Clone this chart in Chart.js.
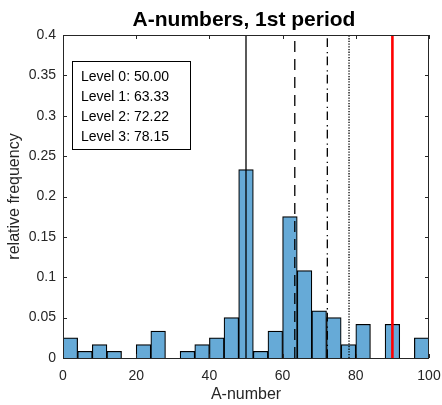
<!DOCTYPE html>
<html>
<head>
<meta charset="utf-8">
<script src="https://cdn.jsdelivr.net/npm/chart.js@4"></script>
<style>
body{margin:0;background:#fff}
</style>
</head>
<body>
<canvas id="dia" width="442" height="405"></canvas>
<script>
// histogram bins (width 4) and relative frequencies
const binCenters = [2,6,10,14,18,22,26,30,34,38,42,46,50,54,58,62,66,70,74,78,82,86,90,94,98];
const freq = [0.025,0.0083,0.0167,0.0083,0,0.0167,0.0333,0,0.0083,0.0167,0.025,0.05,0.2333,
              0.0083,0.0333,0.175,0.1083,0.0583,0.05,0.0167,0.0417,0,0.0417,0,0.025];
const levelNames = ["Level 0","Level 1","Level 2","Level 3"];
const levelValues = [50.00, 63.33, 72.22, 78.15];
const levelDash = [[], [11,7], [8.7,3.3,1.3,5], [1.3,1.4]];
const markValue = 90;
const xTicks = [0,20,40,60,80,100];
const yTicks = [0,0.05,0.1,0.15,0.2,0.25,0.3,0.35,0.4];

const FONT = "'Liberation Sans', Arial, sans-serif";
const axisCol = "#262626";

let datasets = [{
  type: "bar",
  data: binCenters.map((c,i) => ({x:c, y:freq[i]})),
  backgroundColor: "rgb(102,170,215)",
  borderColor: "#000",
  borderWidth: 1.2,
  barPercentage: 1,
  categoryPercentage: 1,
  order: 2
}];
levelValues.forEach((v,i) => {
  datasets.push({
    type: "line",
    data: [{x:v,y:0},{x:v,y:0.4}],
    borderColor: "#000",
    borderWidth: 1.3,
    borderDash: levelDash[i],
    pointRadius: 0,
    order: 1
  });
});
datasets.push({
  type: "line",
  data: [{x:markValue,y:0},{x:markValue,y:0.4}],
  borderColor: "#ff0000",
  borderWidth: 2.6,
  pointRadius: 0,
  order: 0
});

// box, inward ticks, text box and title
const frame = {
  id: "frame",
  afterDraw(chart) {
    const ctx = chart.ctx;
    const a = chart.chartArea;
    const sx = chart.scales.x, sy = chart.scales.y;
    ctx.save();
    ctx.strokeStyle = axisCol;
    ctx.lineWidth = 1;
    ctx.strokeRect(Math.round(a.left)+0.5, Math.round(a.top)+0.5,
                   Math.round(a.right-a.left)-1, Math.round(a.bottom-a.top));
    ctx.beginPath();
    sx.ticks.forEach(t => {
      const px = Math.round(sx.getPixelForValue(t.value))+0.5;
      ctx.moveTo(px, a.bottom); ctx.lineTo(px, a.bottom-4);
      ctx.moveTo(px, a.top); ctx.lineTo(px, a.top+4);
    });
    sy.ticks.forEach(t => {
      const py = Math.round(sy.getPixelForValue(t.value))+0.5;
      ctx.moveTo(a.left, py); ctx.lineTo(a.left+4, py);
      ctx.moveTo(a.right, py); ctx.lineTo(a.right-4, py);
    });
    ctx.stroke();

    // levels box
    ctx.fillStyle = "#fff";
    ctx.fillRect(72, 61, 118, 88);
    ctx.strokeStyle = "#000";
    ctx.strokeRect(72.5, 61.5, 118, 88);
    ctx.fillStyle = "#000";
    ctx.font = "14px " + FONT;
    ctx.textAlign = "left";
    ctx.textBaseline = "alphabetic";
    levelNames.forEach((n,i) => {
      ctx.fillText(n + ": " + levelValues[i].toFixed(2), 81, 81 + i*20);
    });

    // title
    ctx.font = "bold 21px " + FONT;
    ctx.textAlign = "center";
    ctx.fillText("A-numbers, 1st period", 244, 26);
    ctx.restore();
  }
};

new Chart(document.getElementById("dia"), {
  type: "bar",
  data: { datasets: datasets },
  options: {
    responsive: false,
    animation: false,
    layout: { padding: { top: 35, right: 13, left: 0, bottom: 0 } },
    plugins: { legend: { display: false }, tooltip: { enabled: false }, title: { display: false } },
    scales: {
      x: {
        type: "linear", min: 0, max: 100, offset: false,
        grid: { display: false, drawTicks: false },
        border: { display: false },
        afterBuildTicks: s => { s.ticks = xTicks.map(v => ({value: v})); },
        afterFit: s => { s.height = 47; s.paddingRight = 0; s.paddingLeft = 0; },
        ticks: { padding: 10, color: axisCol, maxRotation: 0, font: { size: 14, family: FONT } },
        title: { display: true, text: "A-number", color: axisCol, font: { size: 16, family: FONT }, padding: { top: 0, bottom: 1 } }
      },
      y: {
        min: 0, max: 0.4,
        grid: { display: false, drawTicks: false },
        border: { display: false },
        afterBuildTicks: s => { s.ticks = yTicks.map(v => ({value: v})); },
        afterFit: s => { s.width = 63; s.paddingTop = 0; s.paddingBottom = 0; },
        ticks: { padding: 7, color: axisCol, font: { size: 14, family: FONT },
                 callback: v => String(+v.toFixed(2)) },
        title: { display: true, text: "relative frequency", color: axisCol, font: { size: 16, family: FONT }, padding: { top: 5, bottom: 0 } }
      }
    }
  },
  plugins: [frame]
});
</script>
</body>
</html>
